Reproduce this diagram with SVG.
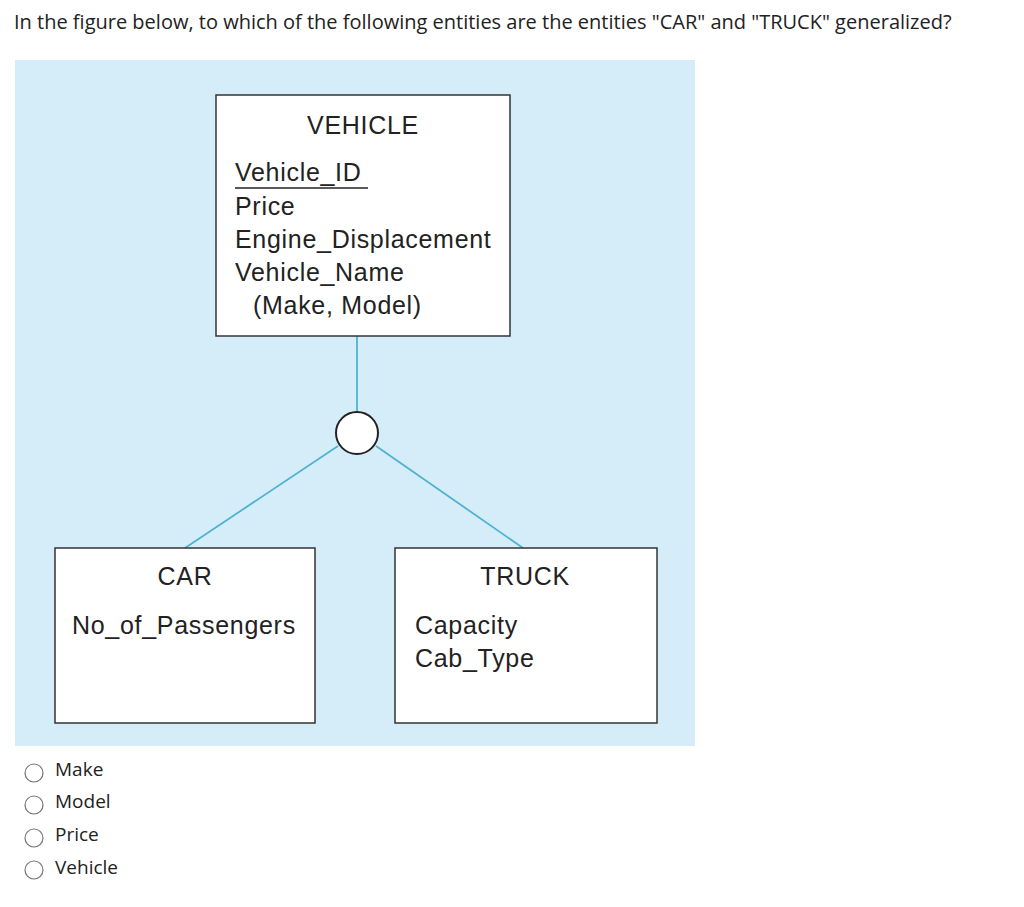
<svg xmlns="http://www.w3.org/2000/svg" width="1024" height="907" viewBox="0 0 1024 907">
<style>
.q{font-family:"Open Sans","Liberation Sans",sans-serif;font-size:20px;fill:#222}
.o{font-family:"Open Sans","Liberation Sans",sans-serif;font-size:19px;fill:#222}
.d{font-family:"Liberation Sans",Arial,sans-serif;font-size:25px;fill:#222;letter-spacing:0.7px}
.box{fill:#fff;stroke:#333;stroke-width:1.5}
.con{stroke:#4fb3d0;stroke-width:1.8;fill:none}
.rad{fill:#fff;stroke:#777;stroke-width:1.2}
</style>
<rect width="1024" height="907" fill="#fff"/>
<text class="q" x="14" y="29">In the figure below, to which of the following entities are the entities "CAR" and "TRUCK" generalized?</text>
<rect x="15" y="60" width="680" height="686" fill="#d5edf9"/>
<g id="connectors">
<line class="con" x1="357" y1="336" x2="357" y2="412"/>
<line class="con" x1="338" y1="446" x2="185" y2="548"/>
<line class="con" x1="376" y1="446" x2="523" y2="548"/>
</g>
<g id="circle"><circle cx="357" cy="433" r="21" fill="#fff" stroke="#222" stroke-width="2"/></g>
<g id="vehicle">
<rect class="box" x="216" y="95" width="294" height="241"/>
<text class="d" x="363" y="134" text-anchor="middle">VEHICLE</text>
<text class="d" x="235" y="181">Vehicle_ID</text>
<line x1="235" y1="188" x2="368" y2="188" stroke="#222" stroke-width="1.5"/>
<text class="d" x="235" y="215">Price</text>
<text class="d" x="235" y="248">Engine_Displacement</text>
<text class="d" x="235" y="281">Vehicle_Name</text>
<text class="d" x="253" y="314">(Make, Model)</text>
</g>
<g id="car">
<rect class="box" x="55" y="548" width="260" height="175"/>
<text class="d" x="185" y="585" text-anchor="middle">CAR</text>
<text class="d" x="72" y="634">No_of_Passengers</text>
</g>
<g id="truck">
<rect class="box" x="395" y="548" width="262" height="175"/>
<text class="d" x="525" y="585" text-anchor="middle">TRUCK</text>
<text class="d" x="415" y="634">Capacity</text>
<text class="d" x="415" y="667">Cab_Type</text>
</g>
<g id="options">
<circle class="rad" cx="34" cy="773" r="9"/><text class="o" x="55" y="776">Make</text>
<circle class="rad" cx="34" cy="805" r="9"/><text class="o" x="55" y="808">Model</text>
<circle class="rad" cx="34" cy="838" r="9"/><text class="o" x="55" y="841">Price</text>
<circle class="rad" cx="34" cy="870" r="9"/><text class="o" x="55" y="874">Vehicle</text>
</g>
</svg>
